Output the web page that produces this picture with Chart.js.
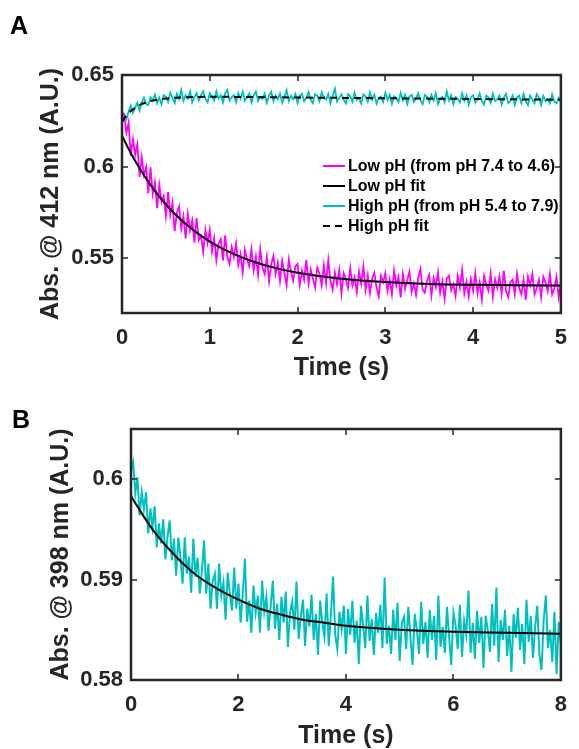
<!DOCTYPE html>
<html>
<head>
<meta charset="utf-8">
<script src="https://cdn.jsdelivr.net/npm/chart.js@4.4.0/dist/chart.umd.min.js"></script>
<style>
  html, body { margin: 0; padding: 0; background: #fff; }
  #figure { position: relative; width: 579px; height: 749px; }
  .panel { position: absolute; left: 0; }
  .panel-letter { position: absolute; font: bold 25px "Liberation Sans", Arial, sans-serif; line-height: 25px; color: #000; }
</style>
</head>
<body>
<div id="figure">
  <canvas id="chartA" class="panel" width="579" height="390" style="top:0"></canvas>
  <canvas id="chartB" class="panel" width="579" height="359" style="top:390px"></canvas>
  <div class="panel-letter" style="left:10px; top:13px">A</div>
  <div class="panel-letter" style="left:12px; top:407px">B</div>
</div>
<script>
/* global Chart:false */

// ---- panel A: pH jump traces, one sample every 25 ms ----
var stepA = 0.025;
var lowPhAbs = [
  0.6296, 0.6283, 0.6184, 0.6240, 0.6058, 0.6148, 0.6063, 0.6122, 0.5943, 0.6051,
  0.5953, 0.5998, 0.5853, 0.5996, 0.5851, 0.5915, 0.5772, 0.5900, 0.5806, 0.5840,
  0.5730, 0.5860, 0.5735, 0.5803, 0.5647, 0.5747, 0.5783, 0.5660, 0.5729, 0.5607,
  0.5741, 0.5651, 0.5705, 0.5584, 0.5719, 0.5598, 0.5622, 0.5533, 0.5654, 0.5582,
  0.5654, 0.5535, 0.5608, 0.5489, 0.5578, 0.5604, 0.5486, 0.5624, 0.5506, 0.5468,
  0.5559, 0.5505, 0.5580, 0.5463, 0.5522, 0.5421, 0.5545, 0.5492, 0.5456, 0.5548,
  0.5432, 0.5508, 0.5408, 0.5548, 0.5449, 0.5413, 0.5506, 0.5374, 0.5467, 0.5512,
  0.5413, 0.5474, 0.5375, 0.5485, 0.5418, 0.5351, 0.5493, 0.5426, 0.5376, 0.5454,
  0.5468, 0.5353, 0.5431, 0.5381, 0.5491, 0.5360, 0.5438, 0.5388, 0.5338, 0.5449,
  0.5415, 0.5350, 0.5460, 0.5363, 0.5489, 0.5376, 0.5327, 0.5421, 0.5356, 0.5435,
  0.5307, 0.5418, 0.5385, 0.5336, 0.5445, 0.5349, 0.5395, 0.5315, 0.5426, 0.5361,
  0.5456, 0.5327, 0.5406, 0.5309, 0.5389, 0.5420, 0.5339, 0.5291, 0.5402, 0.5369,
  0.5417, 0.5321, 0.5384, 0.5303, 0.5431, 0.5350, 0.5398, 0.5285, 0.5413, 0.5332,
  0.5380, 0.5427, 0.5315, 0.5362, 0.5298, 0.5393, 0.5441, 0.5328, 0.5312, 0.5376,
  0.5408, 0.5295, 0.5391, 0.5342, 0.5422, 0.5310, 0.5373, 0.5277, 0.5389, 0.5404,
  0.5324, 0.5356, 0.5292, 0.5403, 0.5339, 0.5435, 0.5307, 0.5371, 0.5290, 0.5386,
  0.5322, 0.5418, 0.5306, 0.5369, 0.5273, 0.5401, 0.5353, 0.5321, 0.5417, 0.5288,
  0.5384, 0.5336, 0.5400, 0.5304, 0.5432, 0.5320, 0.5287, 0.5367, 0.5383, 0.5303,
  0.5415, 0.5335, 0.5303, 0.5383, 0.5271, 0.5399, 0.5350, 0.5414, 0.5302, 0.5334,
  0.5382, 0.5286, 0.5398, 0.5366, 0.5318, 0.5414, 0.5302, 0.5334, 0.5398, 0.5286,
  0.5366
];
var highPhAbs = [
  0.6235, 0.6283, 0.6258, 0.6301, 0.6333, 0.6293, 0.6321, 0.6349, 0.6306, 0.6351,
  0.6376, 0.6341, 0.6335, 0.6378, 0.6361, 0.6393, 0.6345, 0.6377, 0.6339, 0.6390,
  0.6382, 0.6353, 0.6404, 0.6375, 0.6346, 0.6397, 0.6368, 0.6418, 0.6359, 0.6389,
  0.6370, 0.6410, 0.6350, 0.6380, 0.6400, 0.6360, 0.6390, 0.6411, 0.6371, 0.6351,
  0.6401, 0.6381, 0.6361, 0.6411, 0.6371, 0.6390, 0.6350, 0.6400, 0.6420, 0.6360,
  0.6380, 0.6390, 0.6350, 0.6400, 0.6370, 0.6409, 0.6359, 0.6379, 0.6399, 0.6349,
  0.6389, 0.6409, 0.6359, 0.6379, 0.6369, 0.6398, 0.6348, 0.6388, 0.6408, 0.6358,
  0.6388, 0.6368, 0.6398, 0.6348, 0.6378, 0.6417, 0.6357, 0.6387, 0.6367, 0.6397,
  0.6347, 0.6387, 0.6397, 0.6357, 0.6377, 0.6406, 0.6366, 0.6346, 0.6396, 0.6386,
  0.6356, 0.6406, 0.6376, 0.6366, 0.6396, 0.6345, 0.6385, 0.6425, 0.6355, 0.6375,
  0.6395, 0.6365, 0.6345, 0.6395, 0.6385, 0.6354, 0.6404, 0.6364, 0.6374, 0.6344,
  0.6394, 0.6384, 0.6354, 0.6404, 0.6364, 0.6393, 0.6343, 0.6373, 0.6383, 0.6353,
  0.6403, 0.6363, 0.6393, 0.6343, 0.6383, 0.6372, 0.6352, 0.6402, 0.6362, 0.6392,
  0.6342, 0.6382, 0.6392, 0.6352, 0.6372, 0.6401, 0.6361, 0.6341, 0.6391, 0.6381,
  0.6351, 0.6391, 0.6361, 0.6401, 0.6341, 0.6370, 0.6380, 0.6350, 0.6410, 0.6360,
  0.6390, 0.6340, 0.6380, 0.6370, 0.6350, 0.6399, 0.6359, 0.6389, 0.6339, 0.6379,
  0.6389, 0.6349, 0.6369, 0.6399, 0.6359, 0.6338, 0.6388, 0.6378, 0.6348, 0.6398,
  0.6358, 0.6368, 0.6388, 0.6338, 0.6378, 0.6397, 0.6347, 0.6357, 0.6387, 0.6337,
  0.6377, 0.6387, 0.6347, 0.6397, 0.6357, 0.6336, 0.6386, 0.6366, 0.6346, 0.6396,
  0.6376, 0.6336, 0.6386, 0.6356, 0.6366, 0.6345, 0.6395, 0.6355, 0.6345, 0.6375,
  0.6355
];
var fitLowTime = [0, 0.1, 0.2, 0.3, 0.4, 0.5, 0.6, 0.8, 1.0, 1.25, 1.5, 1.75, 2.0, 2.5, 3.0, 3.5, 4.0, 4.5, 5.0];
var fitLowAbs = [0.6168, 0.6074, 0.5991, 0.5917, 0.5851, 0.5794, 0.5742, 0.5657, 0.5590, 0.5527,
  0.5480, 0.5445, 0.5420, 0.5387, 0.5369, 0.5359, 0.5354, 0.5351, 0.5350];
var fitHighTime = [0, 0.05, 0.1, 0.15, 0.2, 0.3, 0.4, 0.5, 0.7, 1, 2, 3, 4, 5];
var fitHighAbs = [0.6245, 0.6278, 0.6303, 0.6321, 0.6336, 0.6354, 0.6365, 0.6372, 0.6378, 0.6381,
  0.6377, 0.6373, 0.6369, 0.6365];
var xTicksA = [0, 1, 2, 3, 4, 5];
var yTicksA = [0.55, 0.6, 0.65];

// ---- panel B: imidazole trace, one sample every 40 ms ----
var stepB = 0.04;
var imidAbs = [
  0.6008, 0.6017, 0.5986, 0.6002, 0.5964, 0.5987, 0.5970, 0.5987, 0.5946, 0.5971,
  0.5952, 0.5973, 0.5932, 0.5956, 0.5936, 0.5960, 0.5920, 0.5943, 0.5959, 0.5919,
  0.5941, 0.5904, 0.5942, 0.5922, 0.5896, 0.5942, 0.5906, 0.5923, 0.5887, 0.5941,
  0.5903, 0.5922, 0.5886, 0.5909, 0.5939, 0.5886, 0.5916, 0.5871, 0.5899, 0.5906,
  0.5871, 0.5916, 0.5884, 0.5897, 0.5860, 0.5907, 0.5886, 0.5869, 0.5912, 0.5871,
  0.5896, 0.5857, 0.5886, 0.5921, 0.5858, 0.5879, 0.5847, 0.5894, 0.5867, 0.5884,
  0.5847, 0.5899, 0.5868, 0.5883, 0.5849, 0.5874, 0.5899, 0.5851, 0.5876, 0.5840,
  0.5883, 0.5857, 0.5888, 0.5833, 0.5867, 0.5878, 0.5850, 0.5898, 0.5841, 0.5863,
  0.5880, 0.5834, 0.5871, 0.5853, 0.5885, 0.5840, 0.5866, 0.5825, 0.5879, 0.5857,
  0.5843, 0.5886, 0.5834, 0.5865, 0.5903, 0.5845, 0.5831, 0.5868, 0.5850, 0.5874,
  0.5826, 0.5871, 0.5845, 0.5879, 0.5837, 0.5859, 0.5816, 0.5874, 0.5854, 0.5832,
  0.5884, 0.5839, 0.5861, 0.5825, 0.5867, 0.5847, 0.5875, 0.5832, 0.5902, 0.5836,
  0.5854, 0.5826, 0.5870, 0.5840, 0.5877, 0.5819, 0.5857, 0.5863, 0.5831, 0.5873,
  0.5843, 0.5815, 0.5866, 0.5850, 0.5826, 0.5878, 0.5836, 0.5858, 0.5822, 0.5870,
  0.5840, 0.5864, 0.5820, 0.5884, 0.5833, 0.5853, 0.5827, 0.5873, 0.5843, 0.5815,
  0.5867, 0.5855, 0.5831, 0.5875, 0.5823, 0.5859, 0.5845, 0.5889, 0.5827, 0.5857,
  0.5821, 0.5869, 0.5837, 0.5863, 0.5812, 0.5864, 0.5850, 0.5828, 0.5876, 0.5834,
  0.5892, 0.5818, 0.5860, 0.5840, 0.5870, 0.5824, 0.5854, 0.5808, 0.5866, 0.5842,
  0.5872, 0.5830, 0.5856, 0.5816, 0.5880, 0.5838, 0.5864, 0.5822, 0.5852, 0.5874,
  0.5826, 0.5810, 0.5860, 0.5884, 0.5832, 0.5850, 0.5818, 0.5868, 0.5806, 0.5858,
  0.5836
];
var fitImidTime = [0, 0.4, 0.8, 1.2, 1.6, 2.0, 2.4, 2.8, 3.2, 3.6, 4.0, 5.0, 6.0, 7.0, 8.0];
var fitImidAbs = [0.5983, 0.5950, 0.5925, 0.5905, 0.5891, 0.5880, 0.5871, 0.5865, 0.5860, 0.5857,
  0.5854, 0.5850, 0.5848, 0.5847, 0.5846];
var xTicksB = [0, 2, 4, 6, 8];
var yTicksB = [0.58, 0.59, 0.6];

var INK = "#262626";
var FONT = "'Liberation Sans', Arial, Helvetica, sans-serif";

function sampled(values, step) {
  return values.map(function (v, i) {
    return { x: i * step, y: v };
  });
}

function paired(times, values) {
  return times.map(function (t, i) {
    return { x: t, y: values[i] };
  });
}

// box round the plot with short inward ticks on all four sides
var frameTicks = {
  id: "frameTicks",
  afterDatasetsDraw: function (chart) {
    var a = chart.chartArea;
    var ctx = chart.ctx;
    var xs = chart.scales.x;
    var ys = chart.scales.y;
    ctx.save();
    ctx.strokeStyle = INK;
    ctx.lineWidth = 1.5;
    ctx.beginPath();
    xs.ticks.forEach(function (t) {
      var px = Math.round(xs.getPixelForValue(t.value));
      ctx.moveTo(px, a.bottom);
      ctx.lineTo(px, a.bottom - 6);
      ctx.moveTo(px, a.top);
      ctx.lineTo(px, a.top + 6);
    });
    ys.ticks.forEach(function (t) {
      var py = Math.round(ys.getPixelForValue(t.value));
      ctx.moveTo(a.left, py);
      ctx.lineTo(a.left + 6, py);
      ctx.moveTo(a.right, py);
      ctx.lineTo(a.right - 6, py);
    });
    ctx.stroke();
    ctx.lineWidth = 2.5;
    ctx.strokeRect(a.left, a.top, a.right - a.left, a.bottom - a.top);
    ctx.restore();
  },
};

// legend drawn inside the plot, no box, like the original
var inlineLegend = {
  id: "inlineLegend",
  afterDraw: function (chart, args, opts) {
    var ctx = chart.ctx;
    ctx.save();
    ctx.font = "bold " + opts.fontSize + "px " + FONT;
    ctx.textBaseline = "middle";
    ctx.textAlign = "left";
    chart.data.datasets.forEach(function (ds, i) {
      var y = opts.top + i * opts.rowHeight;
      ctx.strokeStyle = ds.borderColor;
      ctx.lineWidth = 2;
      ctx.setLineDash(ds.borderDash || []);
      ctx.beginPath();
      ctx.moveTo(opts.left, y);
      ctx.lineTo(opts.left + opts.sample, y);
      ctx.stroke();
      ctx.setLineDash([]);
      ctx.fillStyle = "#000";
      ctx.fillText(ds.label, opts.left + opts.sample + 3, y + 1);
    });
    ctx.restore();
  },
};

function axis(ticks, range, title, isX, geom) {
  return {
    type: "linear",
    min: range[0],
    max: range[1],
    afterBuildTicks: function (scale) {
      scale.ticks = ticks.map(function (v) {
        return { value: v };
      });
    },
    afterFit: function (scale) {
      if (isX) scale.height = geom.xAxisHeight;
      else scale.width = geom.yAxisWidth;
    },
    grid: { display: false, drawTicks: false },
    border: { display: false },
    ticks: {
      color: INK,
      padding: isX ? geom.xTickPad : geom.yTickPad,
      maxRotation: 0,
      autoSkip: false,
      font: { family: FONT, size: 22, weight: "bold" },
      callback: function (v) {
        return String(v);
      },
    },
    title: {
      display: true,
      text: title,
      color: INK,
      font: { family: FONT, size: 25, weight: "bold", lineHeight: 1 },
      padding: isX ? { top: 0, bottom: geom.xTitlePad } : { top: geom.yTitlePad, bottom: 0 },
    },
  };
}

function createPanel(canvasId, datasets, xTicks, yTicks, xRange, yRange, yTitle, geom, legend) {
  var ctx = document.getElementById(canvasId).getContext("2d");
  return new Chart(ctx, {
    type: "line",
    data: { datasets: datasets },
    options: {
      responsive: false,
      devicePixelRatio: 1,
      animation: false,
      events: [],
      layout: { padding: geom.padding },
      elements: { point: { radius: 0 } },
      plugins: {
        legend: { display: false },
        tooltip: { enabled: false },
        inlineLegend: legend,
      },
      scales: {
        x: axis(xTicks, xRange, "Time (s)", true, geom),
        y: axis(yTicks, yRange, yTitle, false, geom),
      },
    },
    plugins: [frameTicks, inlineLegend],
  });
}

createPanel(
  "chartA",
  [
    {
      label: "Low pH (from pH 7.4 to 4.6)",
      data: sampled(lowPhAbs, stepA),
      borderColor: "#ff00ff",
      borderWidth: 1.8,
      order: 2,
    },
    {
      label: "Low pH fit",
      data: paired(fitLowTime, fitLowAbs),
      borderColor: "#000000",
      borderWidth: 2,
      cubicInterpolationMode: "monotone",
      order: 0,
    },
    {
      label: "High pH (from pH 5.4 to 7.9)",
      data: sampled(highPhAbs, stepA),
      borderColor: "#00bfbf",
      borderWidth: 1.8,
      order: 2,
    },
    {
      label: "High pH fit",
      data: paired(fitHighTime, fitHighAbs),
      borderColor: "#000000",
      borderWidth: 2,
      borderDash: [7, 5],
      cubicInterpolationMode: "monotone",
      order: 0,
    },
  ],
  xTicksA,
  yTicksA,
  [0, 5],
  [0.52, 0.65],
  "Abs. @ 412 nm (A.U.)",
  {
    padding: { top: 75, right: 7, left: 0, bottom: 0 },
    yAxisWidth: 122,
    xAxisHeight: 77,
    xTickPad: 12,
    yTickPad: 8,
    xTitlePad: 9,
    yTitlePad: 39,
  },
  { left: 323, top: 166, rowHeight: 20, sample: 22, fontSize: 16 }
);

createPanel(
  "chartB",
  [
    {
      label: "30 mM Imidazole (final)",
      data: sampled(imidAbs, stepB),
      borderColor: "#00bfbf",
      borderWidth: 2,
      order: 2,
    },
    {
      label: "Fit",
      data: paired(fitImidTime, fitImidAbs),
      borderColor: "#000000",
      borderWidth: 2,
      cubicInterpolationMode: "monotone",
      order: 0,
    },
  ],
  xTicksB,
  yTicksB,
  [0, 8],
  [0.58, 0.605],
  "Abs. @ 398 nm (A.U.)",
  {
    padding: { top: 39, right: 9, left: 0, bottom: 0 },
    yAxisWidth: 131,
    xAxisHeight: 69,
    xTickPad: 12,
    yTickPad: 8,
    xTitlePad: 0,
    yTitlePad: 49,
  },
  { left: 337, top: 453, rowHeight: 22, sample: 21, fontSize: 16 }
);
</script>
</body>
</html>
